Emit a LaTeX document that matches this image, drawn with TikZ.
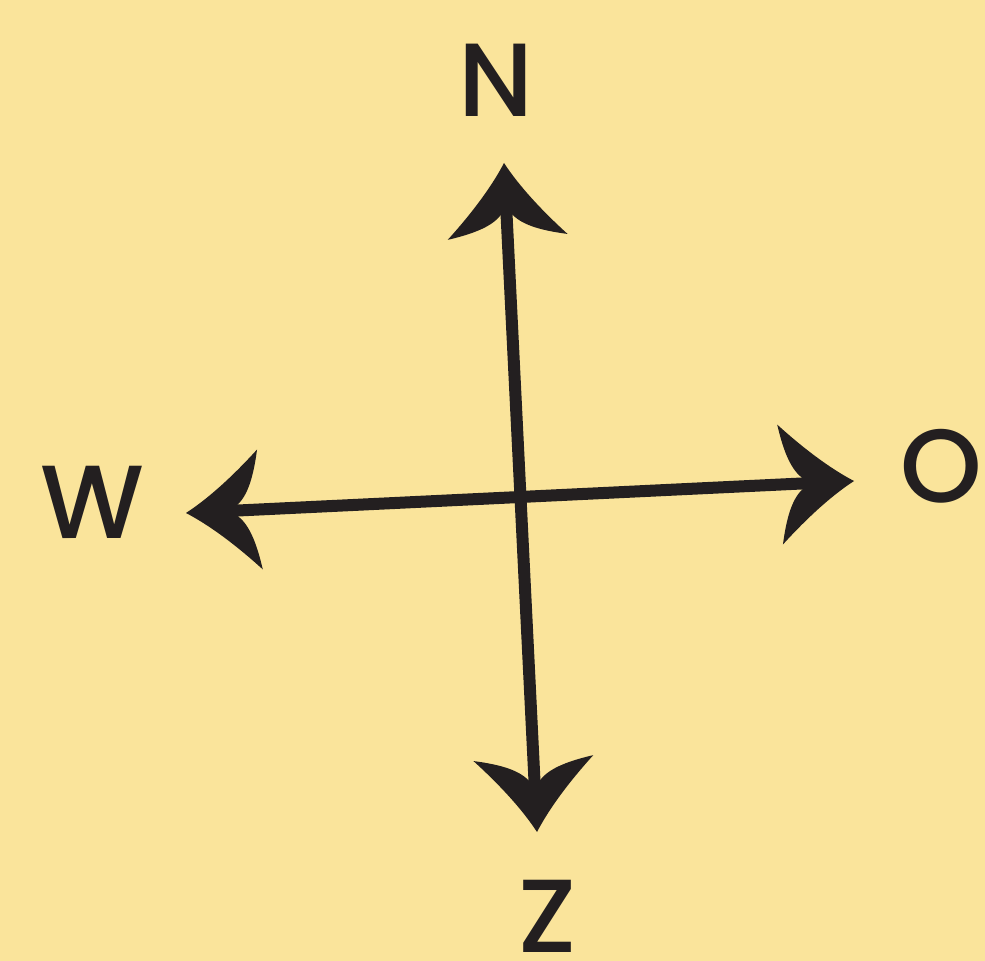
\documentclass[tikz,border=0pt]{standalone}
\usepackage{fontspec}
\setmainfont{Poppins}
\newfontfamily\labelfont{Poppins Medium}
\usetikzlibrary{calc}
\definecolor{bgyellow}{RGB}{250,228,155}
\definecolor{ink}{RGB}{35,31,32}
\tikzset{
  shaft/.style={draw=ink, line width=6pt},
  letter/.style={text=ink, inner sep=0pt, anchor=base, font=\fontsize{52}{52}\selectfont\labelfont},
  head/.pic={
    \fill[ink] (0,0) .. controls (-24,14) and (-50,36) .. (-74,60)
      .. controls (-70,38) and (-64,16) .. (-52,6)
      -- (-52,-6)
      .. controls (-64,-16) and (-70,-38) .. (-74,-60)
      .. controls (-50,-36) and (-24,-14) .. (0,0) -- cycle;
  }
}
\begin{document}
\begin{tikzpicture}[x=0.5pt,y=-0.5pt]
\fill[bgyellow] (0,0) rectangle (985,961);
\useasboundingbox (0,0) rectangle (985,961);
% arrow tips
\coordinate (Nt) at (504,163);
\coordinate (St) at (537,832);
\coordinate (Wt) at (186,513);
\coordinate (Ot) at (854,481);
% shafts
\draw[shaft] ($(Nt)!25pt!(St)$) -- ($(St)!25pt!(Nt)$);
\draw[shaft] ($(Wt)!25pt!(Ot)$) -- ($(Ot)!25pt!(Wt)$);
% heads
\path let \p1=($(Nt)-(St)$), \n1={atan2(\y1,\x1)} in pic[rotate=\n1] at (Nt) {head};
\path let \p1=($(St)-(Nt)$), \n1={atan2(\y1,\x1)} in pic[rotate=\n1] at (St) {head};
\path let \p1=($(Wt)-(Ot)$), \n1={atan2(\y1,\x1)} in pic[rotate=\n1] at (Wt) {head};
\path let \p1=($(Ot)-(Wt)$), \n1={atan2(\y1,\x1)} in pic[rotate=\n1] at (Ot) {head};
% labels
\node[letter] (N) at (496,117) {N};
\node[letter] (W) at (92,539) {W};
\node[letter] (O) at (941,503) {O};
\node[letter] (Z) at (548,952) {Z};
\end{tikzpicture}
\end{document}
